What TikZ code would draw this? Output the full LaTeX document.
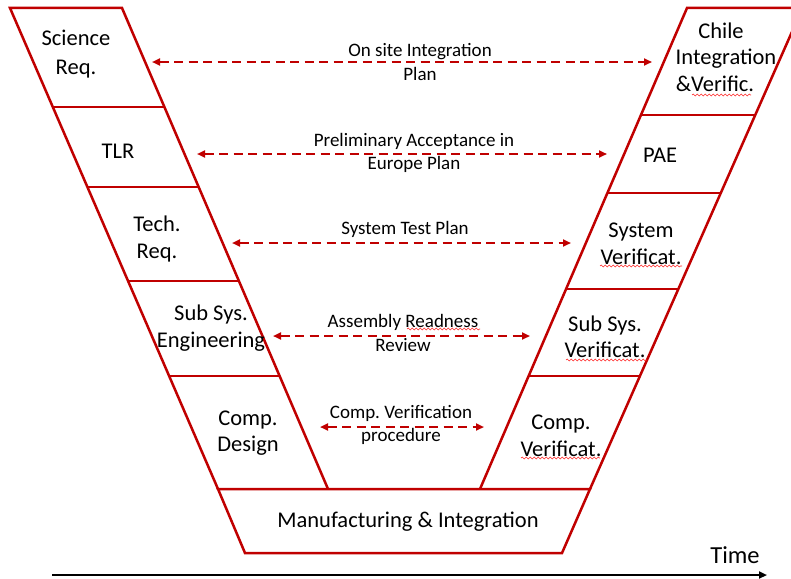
\documentclass[tikz,border=0pt]{standalone}
\usepackage{fontspec}
\setmainfont{Carlito}
\usetikzlibrary{arrows.meta,decorations.pathmorphing}
\definecolor{vred}{HTML}{C00000}
\frenchspacing
\begin{document}
\begin{tikzpicture}[x=1pt,y=-1pt,
  band/.style={draw=vred,line width=2.5pt,line join=miter},
  lbl/.style={font=\fontsize{22.5}{26.5}\selectfont,align=center,inner sep=0},
  plan/.style={font=\fontsize{19}{23.5}\selectfont,align=center,inner sep=0},
  link/.style={draw=vred,line width=2pt,dash pattern=on 9pt off 5.5pt,{Triangle[length=8pt,width=7pt]}-{Triangle[length=8pt,width=7pt]}},
  spell/.style={draw=red!85,line width=0.6pt,decorate,decoration={snake,amplitude=0.9pt,segment length=4pt}}]
\clip (0,0) rectangle (791,578);
% left band
\draw[band] (218,489) -- (10,8) -- (122,8) -- (328,489);
\draw[band] (52.8,107) -- (164.4,107);
\draw[band] (87.4,187) -- (198.7,187);
\draw[band] (128.0,281) -- (238.9,281);
\draw[band] (169.1,376) -- (279.6,376);
% right band
\draw[band] (480,489) -- (687,8) -- (810,8);
\draw[band] (590,489) -- (802.5,8);
\draw[band] (641,115) -- (755,115);
\draw[band] (607.4,193) -- (720.5,193);
\draw[band] (566.1,289) -- (678.2,289);
\draw[band] (528.6,376) -- (639.8,376);
% bottom box
\draw[band] (218,489) -- (590,489) -- (562,553) -- (245,553) -- cycle;
% box labels
\node[lbl,font=\fontsize{22.5}{29}\selectfont] (sci) at (76,54) {Science\\Req.};
\node[lbl] (tlr) at (118,151) {TLR};
\node[lbl] (tech) at (157,239) {Tech.\\Req.};
\node[lbl] (subeng) at (211,328) {Sub Sys.\\Engineering};
\node[lbl] (compd) at (248,433) {Comp.\\Design};
\node[lbl] (chile) at (726,57) {Chile\rule{10pt}{0pt}\\Integration\\\&Verific.\rule{22pt}{0pt}};
\node[lbl] (pae) at (660,155) {PAE};
\node[lbl] (sysv) at (641,244) {System\\Verificat.};
\node[lbl] (subv) at (605,337) {Sub Sys.\\Verificat.};
\node[lbl] (compv) at (561,436) {Comp.\\Verificat.};
\node[lbl] (manu) at (408,522) {Manufacturing \& Integration};
% dashed links
\coordinate (l1) at (152,62);  \coordinate (r1) at (652,62);
\coordinate (l2) at (197,154); \coordinate (r2) at (607,154);
\coordinate (l3) at (232,243); \coordinate (r3) at (571,243);
\coordinate (l4) at (273,336); \coordinate (r4) at (530,336);
\coordinate (l5) at (320,427); \coordinate (r5) at (484,427);
\draw[link] (l1) -- (r1);
\draw[link] (l2) -- (r2);
\draw[link] (l3) -- (r3);
\draw[link] (l4) -- (r4);
\draw[link] (l5) -- (r5);
\node[plan] (p1) at (420,62) {On site Integration\\Plan};
\node[plan] (p2) at (414,153) {Preliminary Acceptance in\\Europe Plan};
\node[plan] (p3) at (405,229) {System Test Plan};
\node[plan] (p4) at (403,333) {Assembly Readness\\Review};
\node[plan] (p5) at (401,425) {Comp. Verification\\procedure};
% spell-check marks
\draw[spell] (692,95) -- (751,95);
\draw[spell] (600,266) -- (682,266);
\draw[spell] (566,360) -- (647,360);
\draw[spell] (521,458) -- (600,458);
\draw[spell] (407,329) -- (480,329);
% time axis
\coordinate (t0) at (52,575);
\coordinate (t1) at (767,575);
\draw[line width=2pt,-{Triangle[length=8pt,width=7pt]}] (t0) -- (t1);
\node[font=\fontsize{24.5}{28}\selectfont,inner sep=0] (time) at (735,555) {Time};
\end{tikzpicture}
\end{document}
